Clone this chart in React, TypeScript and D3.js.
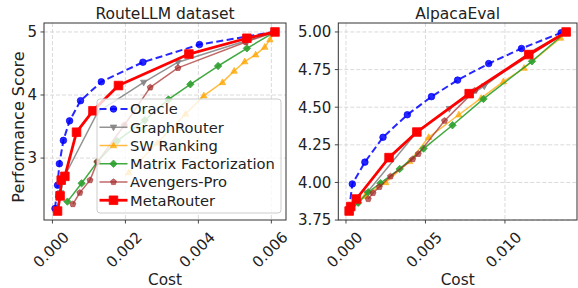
import React from 'react';
import * as d3 from 'd3';

type Pt = [number, number];

const seriesNames = ['Oracle', 'GraphRouter', 'SW Ranking', 'Matrix Factorization', 'Avengers-Pro', 'MetaRouter'];

// RouteLLM dataset: [cost, performance score]
const routeOracle: Pt[] = [[0.00007, 2.2], [0.00014, 2.57], [0.00019, 2.91], [0.0003, 3.28], [0.00047, 3.59], [0.00077, 3.91], [0.00134, 4.21], [0.00248, 4.52], [0.00403, 4.8], [0.00607, 5.0]];
const routeGraph: Pt[] = [[0.00014, 2.18], [0.00022, 2.45], [0.00034, 2.72], [0.00124, 3.73], [0.0025, 4.2], [0.00344, 4.52], [0.0053, 4.86], [0.0061, 5.0]];
const routeSW: Pt[] = [[0.00209, 2.77], [0.00287, 3.24], [0.00365, 3.7], [0.00415, 3.99], [0.00466, 4.2], [0.00498, 4.38], [0.00527, 4.53], [0.00557, 4.64], [0.00582, 4.76], [0.00596, 4.88], [0.0061, 5.0]];
const routeMF: Pt[] = [[0.00041, 2.31], [0.0008, 2.6], [0.00123, 2.94], [0.00177, 3.27], [0.00253, 3.6], [0.00318, 3.93], [0.00378, 4.17], [0.00454, 4.46], [0.00533, 4.74], [0.0061, 5.0]];
const routeAvengers: Pt[] = [[0.00056, 2.27], [0.00075, 2.45], [0.00103, 2.65], [0.00123, 2.94], [0.00197, 3.52], [0.00268, 4.12], [0.00344, 4.43], [0.0053, 4.84], [0.0061, 5.0]];
const routeMeta: Pt[] = [[0.00014, 2.16], [0.00021, 2.4], [0.00024, 2.65], [0.00034, 2.71], [0.00066, 3.41], [0.00111, 3.75], [0.00181, 4.15], [0.00374, 4.65], [0.00533, 4.9], [0.0061, 5.0]];

// AlpacaEval
const alpacaOracle: Pt[] = [[0.0002, 3.82], [0.0004, 3.99], [0.00119, 4.135], [0.00233, 4.3], [0.00386, 4.45], [0.00538, 4.57], [0.00702, 4.68], [0.00898, 4.79], [0.01104, 4.89], [0.01354, 4.995]];
const alpacaGraph: Pt[] = [[0.0002, 3.81], [0.0008, 3.87], [0.0013, 3.93], [0.0045, 4.34], [0.0065, 4.49], [0.0087, 4.64], [0.0115, 4.86], [0.01385, 5.0]];
const alpacaSW: Pt[] = [[0.0002, 3.81], [0.0012, 3.91], [0.0025, 4.0], [0.004, 4.14], [0.0052, 4.3], [0.0071, 4.45], [0.0085, 4.56], [0.0099, 4.67], [0.0112, 4.76], [0.0135, 4.96], [0.01385, 5.0]];
const alpacaMF: Pt[] = [[0.0002, 3.81], [0.00077, 3.865], [0.0014, 3.935], [0.00217, 3.995], [0.00338, 4.09], [0.00488, 4.225], [0.0067, 4.38], [0.00865, 4.555], [0.0117, 4.805], [0.01385, 5.0]];
const alpacaAvengers: Pt[] = [[0.0014, 3.89], [0.0017, 3.93], [0.0021, 3.97], [0.0028, 4.04], [0.0042, 4.155], [0.00455, 4.19], [0.0062, 4.41], [0.0081, 4.61], [0.01385, 5.0]];
const alpacaMeta: Pt[] = [[0.0002, 3.81], [0.0003, 3.84], [0.00065, 3.89], [0.00271, 4.165], [0.00446, 4.335], [0.00775, 4.59], [0.0115, 4.85], [0.01385, 5.0]];

const routeXTicks = [0, 0.002, 0.004, 0.006];
const routeYTicks = [3, 4, 5];
const alpacaXTicks = [0, 0.005, 0.01];
const alpacaYTicks = [3.75, 4.0, 4.25, 4.5, 4.75, 5.0];

const styles = [
  { color: '#0000ff', opacity: 0.85, width: 2, dash: '7,3.5', marker: 'circle', size: 3.3 },
  { color: '#808080', opacity: 0.85, width: 1.5, dash: undefined, marker: 'tridown', size: 3.2 },
  { color: '#ffa500', opacity: 0.75, width: 1.5, dash: undefined, marker: 'triup', size: 3.2 },
  { color: '#2ca02c', opacity: 0.9, width: 1.5, dash: undefined, marker: 'diamond', size: 3.7 },
  { color: '#a52a2a', opacity: 0.7, width: 1.5, dash: undefined, marker: 'pentagon', size: 3.2 },
  { color: '#ff0000', opacity: 1, width: 2.8, dash: undefined, marker: 'square', size: 4.3 },
];

const FONT = 'DejaVu Sans, sans-serif';

function markerPath(kind: string, s: number): string {
  switch (kind) {
    case 'square':
      return `M${-s},${-s}H${s}V${s}H${-s}Z`;
    case 'diamond':
      return `M0,${-s}L${s},0L0,${s}L${-s},0Z`;
    case 'triup':
      return `M0,${-s * 1.1}L${s},${s * 0.7}L${-s},${s * 0.7}Z`;
    case 'tridown':
      return `M0,${s * 1.1}L${s},${-s * 0.7}L${-s},${-s * 0.7}Z`;
    case 'pentagon': {
      const pts = d3.range(5).map(k => {
        const a = (-90 + k * 72) * Math.PI / 180;
        return `${s * Math.cos(a)},${s * Math.sin(a)}`;
      });
      return `M${pts.join('L')}Z`;
    }
    default:
      return `M${s},0A${s},${s} 0 1,1 ${-s},0A${s},${s} 0 1,1 ${s},0Z`;
  }
}

interface PanelProps {
  id: string;
  title: string;
  left: number;
  right: number;
  top: number;
  bottom: number;
  data: Pt[][];
  xTicks: number[];
  yTicks: number[];
  xFmt: (v: number) => string;
  yFmt: (v: number) => string;
  yLabel?: string;
  legend?: boolean;
}

function Panel(p: PanelProps) {
  const all = p.data.flat();
  const [x0, x1] = d3.extent(all, d => d[0]) as [number, number];
  const [y0, y1] = d3.extent(all, d => d[1]) as [number, number];
  const padX = (x1 - x0) * 0.05;
  const padY = (y1 - y0) * 0.05;
  const x = d3.scaleLinear().domain([x0 - padX, x1 + padX]).range([p.left, p.right]);
  const y = d3.scaleLinear().domain([y0 - padY, y1 + padY]).range([p.bottom, p.top]);
  const line = d3.line<Pt>().x(d => x(d[0])).y(d => y(d[1]));
  const cx = (p.left + p.right) / 2;

  return (
    <g>
      <defs>
        <clipPath id={p.id}>
          <rect x={p.left} y={p.top} width={p.right - p.left} height={p.bottom - p.top} />
        </clipPath>
      </defs>
      {/* grid */}
      {p.xTicks.map(t => (
        <line key={'gx' + t} x1={x(t)} x2={x(t)} y1={p.top} y2={p.bottom} stroke="#d0d0d0" strokeWidth={0.8} strokeDasharray="4,2" />
      ))}
      {p.yTicks.map(t => (
        <line key={'gy' + t} x1={p.left} x2={p.right} y1={y(t)} y2={y(t)} stroke="#d0d0d0" strokeWidth={0.8} strokeDasharray="4,2" />
      ))}
      {/* series */}
      <g clipPath={`url(#${p.id})`}>
        {p.data.map((s, i) => {
          const st = styles[i];
          return (
            <g key={'s' + i}>
              <path d={line(s) || ''} fill="none" stroke={st.color} strokeOpacity={st.opacity} strokeWidth={st.width} strokeDasharray={st.dash} strokeLinejoin="round" />
              {s.map((d, j) => (
                <path key={j} d={markerPath(st.marker, st.size)} transform={`translate(${x(d[0])},${y(d[1])})`} fill={st.color} fillOpacity={st.opacity} stroke={st.color} strokeOpacity={st.opacity} strokeWidth={0.8} />
              ))}
            </g>
          );
        })}
      </g>
      {/* frame */}
      <rect x={p.left} y={p.top} width={p.right - p.left} height={p.bottom - p.top} fill="none" stroke="#333" strokeWidth={1} />
      {/* ticks */}
      {p.xTicks.map(t => (
        <g key={'tx' + t}>
          <line x1={x(t)} x2={x(t)} y1={p.bottom} y2={p.bottom + 3.5} stroke="#333" strokeWidth={0.9} />
          <text transform={`translate(${x(t) - 1.5},249.5) rotate(-45)`} textAnchor="middle" dy="0.36em" fontSize={15} fontFamily={FONT} fill="#222">{p.xFmt(t)}</text>
        </g>
      ))}
      {p.yTicks.map(t => (
        <g key={'ty' + t}>
          <line x1={p.left - 3.5} x2={p.left} y1={y(t)} y2={y(t)} stroke="#333" strokeWidth={0.9} />
          <text x={p.left - 7} y={y(t)} dy="0.36em" textAnchor="end" fontSize={15} fontFamily={FONT} fill="#222">{p.yFmt(t)}</text>
        </g>
      ))}
      <text x={cx} y={18.5} textAnchor="middle" fontSize={15.5} fontFamily={FONT} fill="#222">{p.title}</text>
      <text x={cx} y={285} textAnchor="middle" fontSize={15.3} fontFamily={FONT} fill="#222">Cost</text>
      {p.yLabel && (
        <text transform={`translate(24,127) rotate(-90)`} textAnchor="middle" fontSize={16} fontFamily={FONT} fill="#222">{p.yLabel}</text>
      )}
      {p.legend && (
        <g>
          <rect x={97} y={99} width={184} height={114} rx={3} fill="#fff" fillOpacity={0.8} stroke="#ccc" strokeWidth={1} />
          {seriesNames.map((name, i) => {
            const st = styles[i];
            const ly = 109 + i * 18.25;
            return (
              <g key={'l' + i}>
                <line x1={99.5} x2={127.5} y1={ly} y2={ly} stroke={st.color} strokeOpacity={st.opacity} strokeWidth={st.width} strokeDasharray={st.dash} />
                <path d={markerPath(st.marker, st.size)} transform={`translate(113.5,${ly})`} fill={st.color} fillOpacity={st.opacity} stroke={st.color} strokeOpacity={st.opacity} strokeWidth={0.8} />
                <text x={130} y={ly} dy="0.36em" fontSize={14.7} fontFamily={FONT} fill="#222">{name}</text>
              </g>
            );
          })}
        </g>
      )}
    </g>
  );
}

export default function App() {
  const fmt3 = d3.format('.3f');
  const fmt2 = d3.format('.2f');
  return (
    <svg width={578} height={288} style={{ position: 'absolute', left: 0, top: 0, background: '#fff' }}>
      <rect width={578} height={288} fill="#fff" />
      <Panel
        id="clipRoute"
        title="RouteLLM dataset"
        left={44}
        right={286}
        top={23}
        bottom={220}
        data={[routeOracle, routeGraph, routeSW, routeMF, routeAvengers, routeMeta]}
        xTicks={routeXTicks}
        yTicks={routeYTicks}
        xFmt={fmt3}
        yFmt={v => String(v)}
        yLabel="Performance Score"
        legend
      />
      <Panel
        id="clipAlpaca"
        title="AlpacaEval"
        left={338.3}
        right={577}
        top={23}
        bottom={220}
        data={[alpacaOracle, alpacaGraph, alpacaSW, alpacaMF, alpacaAvengers, alpacaMeta]}
        xTicks={alpacaXTicks}
        yTicks={alpacaYTicks}
        xFmt={fmt3}
        yFmt={fmt2}
      />
    </svg>
  );
}
